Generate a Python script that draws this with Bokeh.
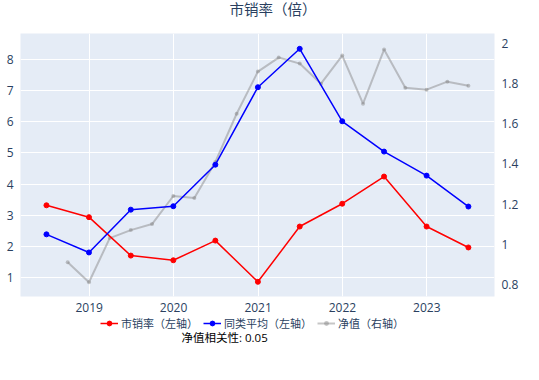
import datetime as dt
import pandas as pd
from bokeh.plotting import figure
from bokeh.layouts import column
from bokeh.models import (LinearAxis, Range1d, FixedTicker, CustomJSTickFormatter,
                          Legend, LegendItem, Label)
from bokeh.embed import file_html
from bokeh.resources import INLINE

# ---- data ----
half_dates = ["2018-06-30", "2018-12-31", "2019-06-30", "2019-12-31", "2020-06-30",
              "2020-12-31", "2021-06-30", "2021-12-31", "2022-06-30", "2022-12-31",
              "2023-06-30"]
ps_ratio = [3.32, 2.94, 1.71, 1.56, 2.19, 0.87, 2.64, 3.37, 4.24, 2.64, 1.97]
peer_avg = [2.39, 1.81, 3.18, 3.29, 4.62, 7.10, 8.33, 6.01, 5.04, 4.27, 3.28]

nav_dates = ["2018-09-30", "2018-12-31", "2019-03-31", "2019-06-30", "2019-09-30",
             "2019-12-31", "2020-03-31", "2020-06-30", "2020-09-30", "2020-12-31",
             "2021-03-31", "2021-06-30", "2021-09-30", "2021-12-31", "2022-03-31",
             "2022-06-30", "2022-09-30", "2022-12-31", "2023-03-31", "2023-06-30"]
nav = [0.91, 0.81, 1.03, 1.07, 1.10, 1.24, 1.23, 1.41, 1.65, 1.86,
       1.93, 1.90, 1.80, 1.94, 1.70, 1.97, 1.78, 1.77, 1.81, 1.79]

year_ticks = [2019, 2020, 2021, 2022, 2023]
left_ticks = [1, 2, 3, 4, 5, 6, 7, 8]
right_ticks = [0.8, 1.0, 1.2, 1.4, 1.6, 1.8, 2.0]

title_text = "市销率（倍）"
series_labels = ["市销率（左轴）", "同类平均（左轴）", "净值（右轴）"]
corr_text = "净值相关性: 0.05"

# ---- styling ----
FONT = "Open Sans, Noto Sans CJK SC"
TXT = "#2a3f5f"
BG = "#E5ECF6"
GRAY_ALPHA = 0.45


def strip(h):
    s = figure(width=523, height=h, x_range=Range1d(0, 1), y_range=Range1d(0, 1),
               min_border=0, output_backend="svg", toolbar_location=None,
               background_fill_color="white", border_fill_color="white", outline_line_color=None)
    s.axis.visible = False
    s.grid.visible = False
    return s


# ---- title strip ----
t = strip(20)
t.add_layout(Label(x=209, y=11.5, x_units="screen", y_units="screen", text=title_text,
                   text_font=FONT, text_font_size="14.5px", text_color=TXT,
                   text_baseline="middle", text_align="left"))

# ---- main chart ----
half_x = pd.to_datetime(half_dates)
nav_x = pd.to_datetime(nav_dates)

x0 = dt.datetime(2019, 1, 1) - dt.timedelta(days=0.814 * 365.25)
x1 = dt.datetime(2023, 1, 1) + dt.timedelta(days=0.802 * 365.25)

p = figure(x_axis_type="datetime", title=None,
           width=523, height=294,
           min_border_left=20, min_border_right=29, min_border_top=13, min_border_bottom=18,
           x_range=Range1d(x0, x1), y_range=Range1d(0.40, 8.82),
           output_backend="svg", toolbar_location=None,
           background_fill_color=BG, border_fill_color="white", outline_line_color=None)
p.extra_y_ranges = {"right": Range1d(0.739, 2.05)}

year_ms = [pd.Timestamp(f"{y}-01-01").value / 1e6 for y in year_ticks]
p.xaxis.ticker = FixedTicker(ticks=year_ms)
p.xaxis.formatter = CustomJSTickFormatter(code="return String(new Date(tick).getUTCFullYear());")
p.yaxis.ticker = FixedTicker(ticks=left_ticks)

raxis = LinearAxis(y_range_name="right", ticker=FixedTicker(ticks=right_ticks),
                   formatter=CustomJSTickFormatter(code="return tick.toFixed(1).replace(/\\.0$/, '');"))
p.add_layout(raxis, "right")

for ax in [p.xaxis[0], p.yaxis[0], raxis]:
    ax.axis_line_color = None
    ax.major_tick_line_color = None
    ax.minor_tick_line_color = None
    ax.major_label_text_font = FONT
    ax.major_label_text_font_size = "12px"
    ax.major_label_text_color = TXT
    ax.major_label_standoff = 1
p.xaxis.major_label_standoff = 0

p.xgrid.grid_line_color = "white"
p.ygrid.grid_line_color = "white"

# gray NAV on right axis (drawn first)
p.line(nav_x, nav, y_range_name="right", line_color="gray", line_alpha=GRAY_ALPHA, line_width=2)
p.scatter(nav_x, nav, y_range_name="right", size=4, fill_color="gray", line_color="gray",
          fill_alpha=GRAY_ALPHA, line_alpha=0.0)
p.line(half_x, ps_ratio, line_color="red", line_width=1.5)
p.scatter(half_x, ps_ratio, size=5, fill_color="red", line_color="red")
p.line(half_x, peer_avg, line_color="blue", line_width=1.5)
p.scatter(half_x, peer_avg, size=5, fill_color="blue", line_color="blue")

# ---- legend strip below the chart (swatch renderers sit outside the visible range) ----
q = strip(50)
sw_x, sw_y = [-5, -4], [-5, -4]
lr = q.line(sw_x, sw_y, line_color="red", line_width=1.5)
lrs = q.scatter(sw_x, sw_y, size=5, fill_color="red", line_color="red")
lb = q.line(sw_x, sw_y, line_color="blue", line_width=1.5)
lbs = q.scatter(sw_x, sw_y, size=5, fill_color="blue", line_color="blue")
lg = q.line(sw_x, sw_y, line_color="gray", line_alpha=GRAY_ALPHA, line_width=2)
lgs = q.scatter(sw_x, sw_y, size=4, fill_color="gray", line_color="gray",
                fill_alpha=GRAY_ALPHA, line_alpha=0.0)

legend = Legend(items=[LegendItem(label=series_labels[0], renderers=[lr, lrs]),
                       LegendItem(label=series_labels[1], renderers=[lb, lbs]),
                       LegendItem(label=series_labels[2], renderers=[lg, lgs])],
                orientation="horizontal", location=(80, 33), padding=0, margin=0, spacing=5,
                glyph_width=18, glyph_height=12, label_standoff=3, label_height=12,
                label_text_font=FONT, label_text_font_size="11px", label_text_color=TXT,
                border_line_color=None, background_fill_alpha=0)
q.add_layout(legend, "center")

q.add_layout(Label(x=161, y=27, x_units="screen", y_units="screen", text=corr_text,
                   text_font=FONT, text_font_size="11.5px", text_color="black",
                   text_baseline="middle", text_align="left"))

layout = column(t, p, q, spacing=0)
open("out.html", "w").write(file_html(layout, INLINE))
